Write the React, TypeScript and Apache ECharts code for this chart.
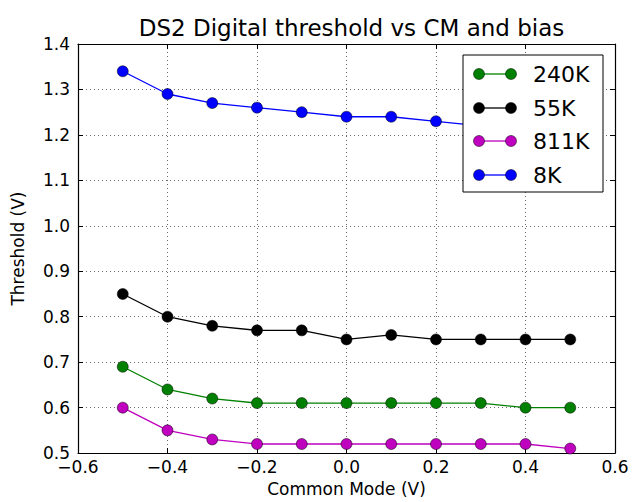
import React, { useEffect, useRef } from "react";
import * as echarts from "echarts";

// Common-mode voltage sweep (V)
const commonMode = [-0.5, -0.4, -0.3, -0.2, -0.1, 0.0, 0.1, 0.2, 0.3, 0.4, 0.5];

// Threshold (V) per bias setting
const seriesNames = ["240K", "55K", "811K", "8K"];
const seriesColors = ["#008000", "#000000", "#bf00bf", "#0000ff"];
const th240K = [0.69, 0.64, 0.62, 0.61, 0.61, 0.61, 0.61, 0.61, 0.61, 0.60, 0.60];
const th55K = [0.85, 0.80, 0.78, 0.77, 0.77, 0.75, 0.76, 0.75, 0.75, 0.75, 0.75];
const th811K = [0.60, 0.55, 0.53, 0.52, 0.52, 0.52, 0.52, 0.52, 0.52, 0.52, 0.51];
const th8K = [1.34, 1.29, 1.27, 1.26, 1.25, 1.24, 1.24, 1.23, 1.22, 1.22, 1.22];
const seriesValues = [th240K, th55K, th811K, th8K];

const FONT = "DejaVu Sans";

const fmt = (v: number) => v.toFixed(1).replace("-", "\u2212");

export default function App() {
  const ref = useRef<HTMLDivElement>(null);

  useEffect(() => {
    if (!ref.current) return;
    const chart = echarts.init(ref.current, null, { renderer: "svg" });

    const gridLeft = 78;
    const gridTop = 44;
    const gridRight = 615;
    const gridBottom = 459;

    const dotted = { show: true, lineStyle: { color: "#444", type: [1, 3] as any, width: 0.8 } };
    const tick = { show: true, inside: true, length: 5, lineStyle: { color: "#000" } };
    const line = { show: true, onZero: false, lineStyle: { color: "#000", width: 1.2 } };

    // legend box drawn with graphic elements
    const lgX = 463, lgY = 55, lgW = 140, lgH = 137;
    const rowY = [74, 108, 141, 175];
    const legendEls: any[] = [
      {
        type: "rect",
        shape: { x: lgX, y: lgY, width: lgW, height: lgH },
        style: { fill: "#fff", stroke: "#000", lineWidth: 1 },
        z: 100,
      },
    ];
    seriesNames.forEach((name, i) => {
      const y = rowY[i];
      legendEls.push({
        type: "line",
        shape: { x1: 479, y1: y, x2: 511, y2: y },
        style: { stroke: seriesColors[i], lineWidth: 1.3 },
        z: 101,
      });
      [479, 511].forEach((cx) =>
        legendEls.push({
          type: "circle",
          shape: { cx, cy: y, r: 5.5 },
          style: { fill: seriesColors[i], stroke: "#000", lineWidth: 0.5 },
          z: 102,
        })
      );
      legendEls.push({
        type: "text",
        x: 533,
        y,
        style: {
          text: name,
          fontFamily: FONT,
          fontSize: 22,
          fill: "#000",
          verticalAlign: "middle",
        },
        z: 102,
      });
    });

    chart.setOption({
      animation: false,
      backgroundColor: "#fff",
      title: {
        text: "DS2 Digital threshold vs CM and bias",
        left: (gridLeft + gridRight) / 2,
        top: 11,
        textAlign: "center",
        textStyle: { fontFamily: FONT, fontSize: 23, fontWeight: "normal", color: "#000" },
      },
      grid: {
        left: gridLeft,
        top: gridTop,
        right: 638 - gridRight,
        bottom: 502 - gridBottom,
        containLabel: false,
      },
      xAxis: [
        {
          type: "value",
          min: -0.6,
          max: 0.6,
          interval: 0.2,
          name: "Common Mode (V)",
          nameLocation: "middle",
          nameGap: 22,
          nameTextStyle: { fontFamily: FONT, fontSize: 17, color: "#000" },
          axisLine: line,
          axisTick: tick,
          splitLine: dotted,
          axisLabel: { formatter: fmt, fontFamily: FONT, fontSize: 17, color: "#000", margin: 5 },
        },
        {
          type: "value",
          position: "top",
          min: -0.6,
          max: 0.6,
          interval: 0.2,
          axisLine: line,
          axisTick: tick,
          splitLine: { show: false },
          axisLabel: { show: false },
        },
      ],
      yAxis: [
        {
          type: "value",
          min: 0.5,
          max: 1.4,
          interval: 0.1,
          name: "Threshold (V)",
          nameLocation: "middle",
          nameGap: 52,
          nameTextStyle: { fontFamily: FONT, fontSize: 17, color: "#000" },
          axisLine: line,
          axisTick: tick,
          splitLine: dotted,
          axisLabel: { formatter: fmt, fontFamily: FONT, fontSize: 17, color: "#000", margin: 8 },
        },
        {
          type: "value",
          position: "right",
          min: 0.5,
          max: 1.4,
          interval: 0.1,
          axisLine: line,
          axisTick: tick,
          splitLine: { show: false },
          axisLabel: { show: false },
        },
      ],
      series: seriesNames.map((name, i) => ({
        name,
        type: "line",
        xAxisIndex: 0,
        yAxisIndex: 0,
        data: commonMode.map((x, j) => [x, seriesValues[i][j]]),
        symbol: "circle",
        symbolSize: 11,
        lineStyle: { color: seriesColors[i], width: 1.3 },
        itemStyle: { color: seriesColors[i], borderColor: "#000", borderWidth: 0.5 },
        clip: false,
        z: 3 + i,
      })),
      graphic: legendEls,
    });

    return () => chart.dispose();
  }, []);

  return (
    <div
      ref={ref}
      style={{ position: "absolute", left: 0, top: 0, width: 638, height: 502 }}
    />
  );
}
